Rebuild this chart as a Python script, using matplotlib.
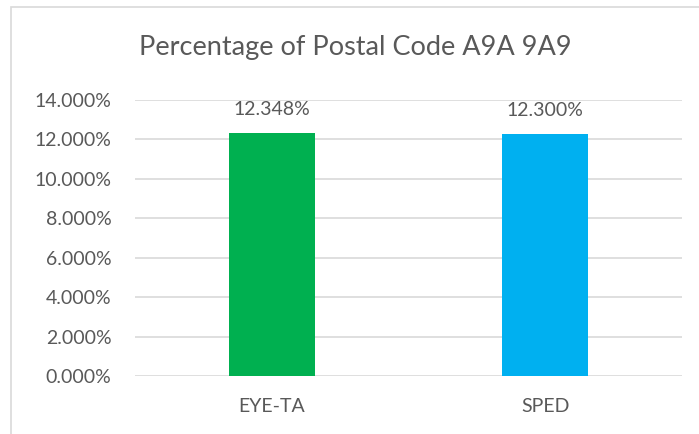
import matplotlib.pyplot as plt
from matplotlib.patches import Rectangle
from matplotlib.ticker import FuncFormatter

# data
categories = ['EYE-TA', 'SPED']
percentages = [12.348, 12.300]
bar_colors = ['#00B050', '#00B0F0']
y_ticks = [0, 2, 4, 6, 8, 10, 12, 14]

plt.rcParams['font.family'] = ['Lato', 'DejaVu Sans']
text_color = '#595959'

fig = plt.figure(figsize=(6.99, 4.34), dpi=100)
ax = fig.add_axes([135/699, 58/434, 547/699, 276/434])

# light border of the chart area (only top and left visible)
fig.patches.append(Rectangle((11/699, -0.1), 1.2, (434-7)/434 + 0.1,
                             transform=fig.transFigure, fill=False,
                             edgecolor='#D9D9D9', linewidth=1.2))

x = range(len(categories))
bars = ax.bar(x, percentages, width=0.315, color=bar_colors, zorder=3)

for b, v in zip(bars, percentages):
    ax.text(b.get_x() + b.get_width()/2, v + 0.75, '%.3f%%' % v,
            ha='center', va='bottom', fontsize=14, color=text_color)

ax.set_xlim(-0.5, 1.5)
ax.set_ylim(0, 14)
ax.set_yticks(y_ticks)
ax.yaxis.set_major_formatter(FuncFormatter(lambda v, p: '%.3f%%' % v))
ax.set_xticks(list(x))
ax.set_xticklabels(categories)
ax.tick_params(axis='both', length=0, labelsize=14, colors=text_color)
ax.tick_params(axis='y', pad=17)
ax.tick_params(axis='x', pad=16)
ax.grid(axis='y', color='#D9D9D9', linewidth=1.2, zorder=0)
for s in ax.spines.values():
    s.set_visible(False)

fig.text(355/699, 1 - 47/434, 'Percentage of Postal Code A9A 9A9',
         ha='center', va='center', fontsize=19.5, color=text_color)

fig.savefig('out.png', dpi=100)
